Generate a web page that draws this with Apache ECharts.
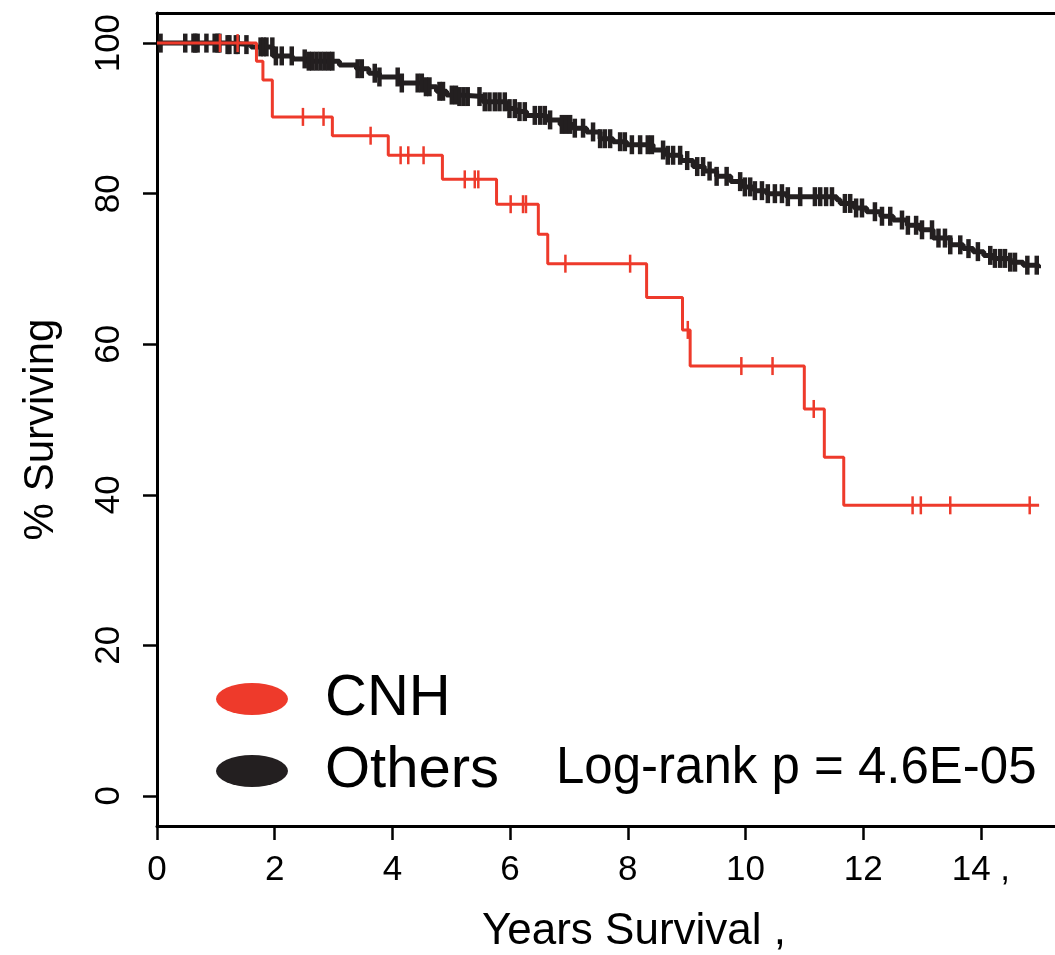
<!DOCTYPE html>
<html>
<head>
<meta charset="utf-8">
<script src="https://cdn.jsdelivr.net/npm/echarts@6/dist/echarts.min.js"></script>
<style>
html,body{margin:0;padding:0;background:#fff;}
#chart{width:1055px;height:955px;}
</style>
</head>
<body>
<div id="chart"></div>
<script>
// ---- data ----
const xTicks = [0, 2, 4, 6, 8, 10, 12, 14];
const xTickLabels = ['0', '2', '4', '6', '8', '10', '12', '14 ,'];
const yTicks = [0, 20, 40, 60, 80, 100];

// CNH: [years, % surviving] step points (value holds from that time on)
const cnhSteps = [
  [0, 100], [1.69, 97.6], [1.80, 95.1], [1.96, 90.2], [2.98, 87.7], [3.93, 85.1],
  [4.85, 81.9], [5.77, 78.6], [6.48, 74.6], [6.64, 70.7], [8.32, 66.2], [8.93, 61.9],
  [9.06, 57.1], [11.00, 51.4], [11.34, 45.0], [11.67, 38.6], [14.99, 38.6]
];
const cnhCensor = [1.07, 1.37, 2.48, 2.83, 3.63, 4.14, 4.27, 4.53, 5.23, 5.40, 5.46,
  6.01, 6.22, 6.27, 6.94, 8.04, 9.02, 9.93, 10.46, 11.16, 12.84, 12.98, 13.48, 14.83];

// Others
const othSteps = [
  [0, 100], [1.2, 99.8], [1.6, 99.5], [1.97, 98.3], [2.3, 97.9], [2.54, 97.6], [3.10, 97.1],
  [3.39, 96.6], [3.6, 96.0], [3.78, 95.5], [4.13, 94.7], [4.52, 94.2], [4.75, 93.6],
  [4.92, 93.1], [5.14, 92.9], [5.54, 92.2], [5.94, 91.3], [6.1, 90.9], [6.28, 90.4],
  [6.62, 89.8], [6.85, 89.2], [7.07, 88.7], [7.30, 88.2], [7.53, 87.3], [7.75, 86.9],
  [7.98, 86.5], [8.43, 85.8], [8.66, 85.1], [8.9, 84.4], [9.11, 83.6], [9.3, 83.0],
  [9.51, 82.3], [9.75, 81.6], [9.96, 80.9], [10.15, 80.4], [10.36, 80.0], [10.7, 79.6],
  [11.55, 79.2], [11.61, 78.7], [11.85, 78.1], [12.06, 77.6], [12.3, 77.0], [12.51, 76.5],
  [12.75, 75.8], [12.97, 75.2], [13.19, 74.1], [13.48, 73.2], [13.7, 72.7], [13.87, 72.3],
  [14.05, 71.8], [14.21, 71.4], [14.5, 70.9], [14.72, 70.5], [14.98, 70.1]
];
const othCensor = [0.06, 0.48, 0.62, 0.65, 0.69, 0.84, 0.98, 1.03, 1.06, 1.20, 1.23, 1.34,
  1.37, 1.52, 1.76, 1.81, 1.86, 1.96, 2.02, 2.12, 2.29, 2.51, 2.58, 2.64, 2.71, 2.78,
  2.85, 2.92, 2.98, 3.41, 3.48, 3.70, 3.78, 4.09, 4.16, 4.43, 4.50, 4.57, 4.63, 4.80,
  4.86, 5.01, 5.08, 5.14, 5.21, 5.28, 5.48, 5.57, 5.65, 5.74, 5.82, 5.91, 5.99, 6.08,
  6.16, 6.25, 6.42, 6.51, 6.59, 6.68, 6.88, 6.95, 7.02, 7.10, 7.24, 7.41, 7.53, 7.61,
  7.70, 7.87, 7.95, 8.07, 8.21, 8.34, 8.41, 8.60, 8.68, 8.77, 8.89, 9.01, 9.18, 9.28,
  9.39, 9.51, 9.68, 9.91, 9.99, 10.08, 10.16, 10.28, 10.38, 10.50, 10.62, 10.72, 10.93,
  11.18, 11.27, 11.37, 11.47, 11.69, 11.78, 11.88, 11.98, 12.20, 12.32, 12.46, 12.66,
  12.76, 12.90, 13.00, 13.17, 13.28, 13.39, 13.48, 13.65, 13.79, 13.95, 14.16, 14.24,
  14.33, 14.41, 14.50, 14.58, 14.79, 14.95];

const seriesNames = ['CNH', 'Others'];
const pText = 'Log-rank p = 4.6E-05';

// ---- helpers ----
function survAt(steps, t) {
  let v = steps[0][1];
  for (const p of steps) { if (p[0] <= t) v = p[1]; else break; }
  return v;
}
function censorPts(steps, times) { return times.map(t => [t, survAt(steps, t)]); }

const RED = '#EE3A2B';
const BLK = '#231F20';
const FONT = "'Liberation Sans', Arial, Helvetica, sans-serif";

const chart = echarts.init(document.getElementById('chart'), null, {renderer: 'canvas'});
const ellipse = 'path://M0,16 A36,16 0 1,1 72,16 A36,16 0 1,1 0,16 Z';

chart.setOption({
  animation: false,
  backgroundColor: '#fff',
  grid: {left: 157, top: 13, right: 0, bottom: 129, containLabel: false, outerBoundsMode: 'none'},
  xAxis: [{
    type: 'value', min: 0, max: 15.26,
    name: 'Years Survival ,', nameLocation: 'middle', nameGap: 84,
    nameTextStyle: {fontFamily: FONT, fontSize: 44, color: '#000', padding: [0, 0, 0, 56]},
    axisLine: {show: true, onZero: false, lineStyle: {color: '#000', width: 3}},
    axisTick: {show: true, customValues: xTicks, length: 14, lineStyle: {color: '#000', width: 2.5}},
    axisLabel: {show: true, customValues: xTicks, margin: 27, fontFamily: FONT, fontSize: 35, color: '#000',
      formatter: v => { const i = xTicks.indexOf(v); return i >= 0 ? xTickLabels[i] : ''; }},
    splitLine: {show: false}
  }, {
    type: 'value', min: 0, max: 15.26, position: 'top',
    axisLine: {show: true, onZero: false, lineStyle: {color: '#000', width: 3}},
    axisTick: {show: false}, axisLabel: {show: false}, splitLine: {show: false}
  }],
  yAxis: {
    type: 'value', min: -4, max: 104,
    name: '% Surviving', nameLocation: 'middle', nameGap: 95, nameRotate: 90,
    nameTextStyle: {fontFamily: FONT, fontSize: 42, color: '#000', padding: [0, 20, 0, 0]},
    axisLine: {show: true, onZero: false, lineStyle: {color: '#000', width: 3}},
    axisTick: {show: true, customValues: yTicks, length: 14, lineStyle: {color: '#000', width: 2.5}},
    axisLabel: {show: true, customValues: yTicks, rotate: 90, margin: 30, fontFamily: FONT, fontSize: 35, color: '#000'},
    splitLine: {show: false}
  },
  legend: {
    orient: 'vertical', left: 211, top: 665,
    data: seriesNames,
    itemWidth: 72, itemHeight: 32, itemGap: 14,
    icon: ellipse,
    textStyle: {fontFamily: FONT, fontSize: 58, color: '#000', padding: [0, 0, 0, 32], lineHeight: 44},
    selectedMode: false
  },
  graphic: [{
    type: 'text', left: 556, top: 743,
    style: {text: pText, font: "51px 'Liberation Sans', Arial, sans-serif", fill: '#000'}
  }],
  series: [
    {name: 'Others', type: 'line', step: 'end', data: othSteps, showSymbol: false, symbol: 'none',
      color: BLK, lineStyle: {color: BLK, width: 5}, z: 2},
    {name: 'Others censored', type: 'scatter', data: censorPts(othSteps, othCensor),
      symbol: 'rect', symbolSize: [4.5, 19], itemStyle: {color: BLK, opacity: 1}, z: 3},
    {name: 'CNH', type: 'line', step: 'end', data: cnhSteps, showSymbol: false, symbol: 'none',
      color: RED, lineStyle: {color: RED, width: 3}, z: 4},
    {name: 'CNH censored', type: 'scatter', data: censorPts(cnhSteps, cnhCensor),
      symbol: 'rect', symbolSize: [2.5, 18], itemStyle: {color: RED, opacity: 1}, z: 5}
  ]
});
</script>
</body>
</html>
